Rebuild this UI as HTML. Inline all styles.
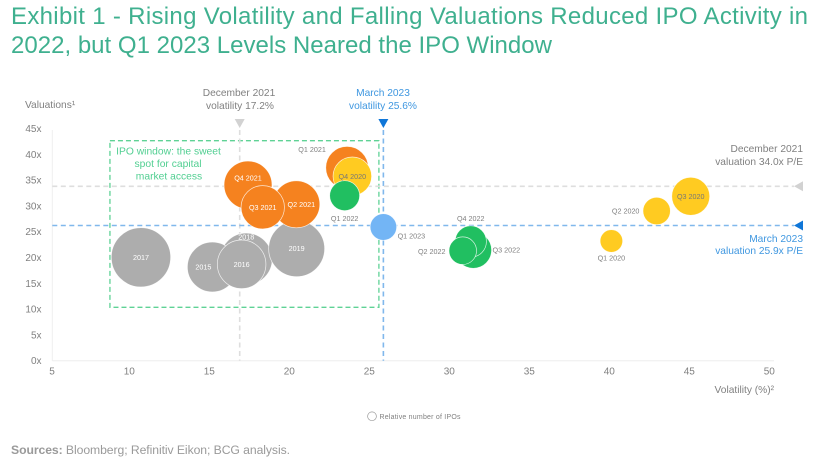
<!DOCTYPE html>
<html lang="en">
<head>
<meta charset="utf-8">
<title>Exhibit 1</title>
<style>
html,body{margin:0;padding:0;background:#fff;width:821px;height:460px;overflow:hidden}
svg{display:block;font-family:"Liberation Sans",sans-serif}
text{font-family:"Liberation Sans",sans-serif}
</style>
</head>
<body>
<svg id="chart" width="821" height="460" viewBox="0 0 821 460" xmlns="http://www.w3.org/2000/svg">
  <rect x="0" y="0" width="821" height="460" fill="#fff"/>
  <g fill="#3fb08f" font-size="24">
    <text x="11" y="24" textLength="797" lengthAdjust="spacing">Exhibit 1 - Rising Volatility and Falling Valuations Reduced IPO Activity in</text>
    <text x="11" y="53" textLength="541" lengthAdjust="spacing">2022, but Q1 2023 Levels Neared the IPO Window</text>
  </g>
  <text x="25" y="108" font-size="10.2" fill="#808080">Valuations¹</text>
  <text x="774" y="393" font-size="10.2" fill="#808080" text-anchor="end">Volatility (%)²</text>
  <g id="axes"></g>
  <g id="window"></g>
  <g id="refs"></g>
  <g id="bubbles"></g>
  <g fill="#52cf92" font-size="10.3" text-anchor="middle">
    <text x="168.5" y="154.5">IPO window: the sweet</text>
    <text x="168" y="167">spot for capital</text>
    <text x="169" y="179.5">market access</text>
  </g>
  <g fill="#808080" font-size="10.2" text-anchor="middle">
    <text x="239" y="96">December 2021</text>
    <text x="240" y="109">volatility 17.2%</text>
  </g>
  <g fill="#3f97e0" font-size="10.2" text-anchor="middle">
    <text x="383" y="96">March 2023</text>
    <text x="383" y="109">volatility 25.6%</text>
  </g>
  <g fill="#808080" font-size="10.2" text-anchor="end">
    <text x="803" y="152">December 2021</text>
    <text x="803" y="165">valuation 34.0x P/E</text>
  </g>
  <g fill="#3f97e0" font-size="10.2" text-anchor="end">
    <text x="803" y="242">March 2023</text>
    <text x="803" y="254">valuation 25.9x P/E</text>
  </g>
  <g>
    <circle cx="372" cy="416.3" r="4.4" fill="none" stroke="#999" stroke-width="0.7"/>
    <text x="379.5" y="418.8" font-size="7" fill="#808080" textLength="81" lengthAdjust="spacing">Relative number of IPOs</text>
  </g>
  <text x="11" y="454" font-size="12.2" fill="#9a9a9a" textLength="279" lengthAdjust="spacing"><tspan font-weight="bold">Sources:</tspan> Bloomberg; Refinitiv Eikon; BCG analysis.</text>
</svg>
<script>
// Chart data
var xTicks = [5, 10, 15, 20, 25, 30, 35, 40, 45, 50];
var yTicks = [0, 5, 10, 15, 20, 25, 30, 35, 40, 45];
var periods = ['2017','2018','2015','2016','2019','Q4 2021','Q2 2021','Q3 2021','Q1 2021','Q4 2020','Q1 2022','Q1 2023','Q3 2022','Q4 2022','Q2 2022','Q1 2020','Q2 2020','Q3 2020'];
var volatility = [10.73,17.31,15.19,17.02,20.46,17.42,20.44,18.34,23.61,23.94,23.46,25.88,31.5,31.34,30.84,40.13,42.96,45.09];
var valuation = [20.04,19.71,18.16,18.68,21.71,34.05,30.31,29.73,37.4,35.74,31.98,25.91,21.45,23.1,21.32,23.2,29.01,31.86];
var relativeIpos = [882,676,625,590,784,576,552,471,454,372,225,177,335,246,190,128,188,361];
var groups = ['history','history','history','history','history','y2021','y2021','y2021','y2021','y2020','y2022','now','y2022','y2022','y2022','y2020','y2020','y2020'];
var ipoWindowVolatility = [8.79, 25.6];
var ipoWindowValuation = [10.35, 42.64];
var refVolatility = [16.9, 25.88];
var refValuation = [33.8, 26.2];

// Styling and layout (not data)
var groupFill = {history:'#adadad', y2021:'#f5821f', y2020:'#ffcb21', y2022:'#21bf61', now:'#73b5f5'};
var labelStyle = {
  '2018':{dy:-22,fill:'#fff'}, '2015':{dx:-9,fill:'#fff'}, '2016':{fill:'#fff'}, '2017':{fill:'#fff'}, '2019':{fill:'#fff'},
  'Q4 2021':{dy:-7,fill:'#fff'}, 'Q2 2021':{dx:5,fill:'#fff'}, 'Q3 2021':{fill:'#fff'},
  'Q1 2021':{dx:-35,dy:-18,fill:'#808080'}, 'Q4 2020':{fill:'#777'}, 'Q1 2022':{dy:23,fill:'#808080'},
  'Q1 2023':{dx:28,dy:9,fill:'#808080'}, 'Q3 2022':{dx:33,fill:'#808080'}, 'Q4 2022':{dy:-23,fill:'#808080'}, 'Q2 2022':{dx:-31,dy:1,fill:'#808080'},
  'Q1 2020':{dy:17,fill:'#808080'}, 'Q2 2020':{dx:-31,fill:'#808080'}, 'Q3 2020':{fill:'#777'}
};

var NS = 'http://www.w3.org/2000/svg';
function xScale(v){ return 289.3 + (v - 20) * 16; }
function yScale(v){ return 360.7 - v * 5.16; }
function rScale(n){ return Math.sqrt(n); }
function make(tag, attrs, parent){
  var el = document.createElementNS(NS, tag);
  for (var k in attrs) el.setAttribute(k, attrs[k]);
  parent.appendChild(el);
  return el;
}

var axes = document.getElementById('axes');
var axisLeft = 52.3, axisRight = 774;
var yAxisLine = make('line', {x1:axisLeft, x2:axisLeft, y1:yScale(44.7), y2:yScale(0), stroke:'#eee', 'stroke-width':1}, axes);


var xAxisLine = make('line', {x1:axisLeft, x2:axisRight, y1:yScale(0), y2:yScale(0), stroke:'#eee', 'stroke-width':1}, axes);



xTicks.forEach(function(t, i){
  var lab = make('text', {x:xScale(t), y:374.5, 'font-size':10, fill:'#808080', 'text-anchor': i === 0 ? 'start' : 'middle'}, axes);
  
  
  lab.textContent = String(t);
});
yTicks.forEach(function(t){
  var lab = make('text', {x:41.5, y:yScale(t) + 3.5, 'font-size':10, fill:'#808080', 'text-anchor':'end'}, axes);
  
  
  lab.textContent = t + 'x';
});

var win = document.getElementById('window');
var winRect = make('rect', {
  x:xScale(ipoWindowVolatility[0]), y:yScale(ipoWindowValuation[1]),
  width:xScale(ipoWindowVolatility[1]) - xScale(ipoWindowVolatility[0]),
  height:yScale(ipoWindowValuation[0]) - yScale(ipoWindowValuation[1]),
  fill:'none', stroke:'#5fd295', 'stroke-width':1.3, 'stroke-dasharray':'5 3'
}, win);



var refs = document.getElementById('refs');
var refColors = ['#dedede', '#80b8ec'];
var arrowColors = ['#d2d2d2', '#0f76d8'];
refVolatility.forEach(function(v, i){
  var x = xScale(v);
  var line = make('line', {x1:x, x2:x, y1:yScale(44.7), y2:yScale(0), stroke:refColors[i], 'stroke-width':1.6, 'stroke-dasharray':'5 3.5'}, refs);
  
  
  var tri = make('polygon', {points:(x-5)+',119 '+(x+5)+',119 '+x+',128', fill:arrowColors[i]}, refs);
  
  
});
refValuation.forEach(function(v, i){
  var y = yScale(v);
  var line = make('line', {x1:axisLeft, x2:794, y1:y, y2:y, stroke:refColors[i], 'stroke-width':1.6, 'stroke-dasharray':'5 3.5'}, refs);
  
  
  var tri = make('polygon', {points:'803,'+(y-5)+' 803,'+(y+5)+' 794,'+y, fill:arrowColors[i]}, refs);
  
  
});

var bubbles = document.getElementById('bubbles');
periods.forEach(function(p, i){
  var cx = xScale(volatility[i]), cy = yScale(valuation[i]);
  var c = make('circle', {cx:cx, cy:cy, r:rScale(relativeIpos[i]), fill:groupFill[groups[i]], stroke:'#fff', 'stroke-opacity':0.8, 'stroke-width':0.7}, bubbles);
  
  
});
periods.forEach(function(p, i){
  var s = labelStyle[p] || {};
  var t = make('text', {x:xScale(volatility[i]) + (s.dx || 0), y:yScale(valuation[i]) + (s.dy || 0) + 2.5, 'font-size':7.2, fill:s.fill || '#777', 'text-anchor':'middle'}, bubbles);
  
  
  t.textContent = p;
});
</script>
</body>
</html>
